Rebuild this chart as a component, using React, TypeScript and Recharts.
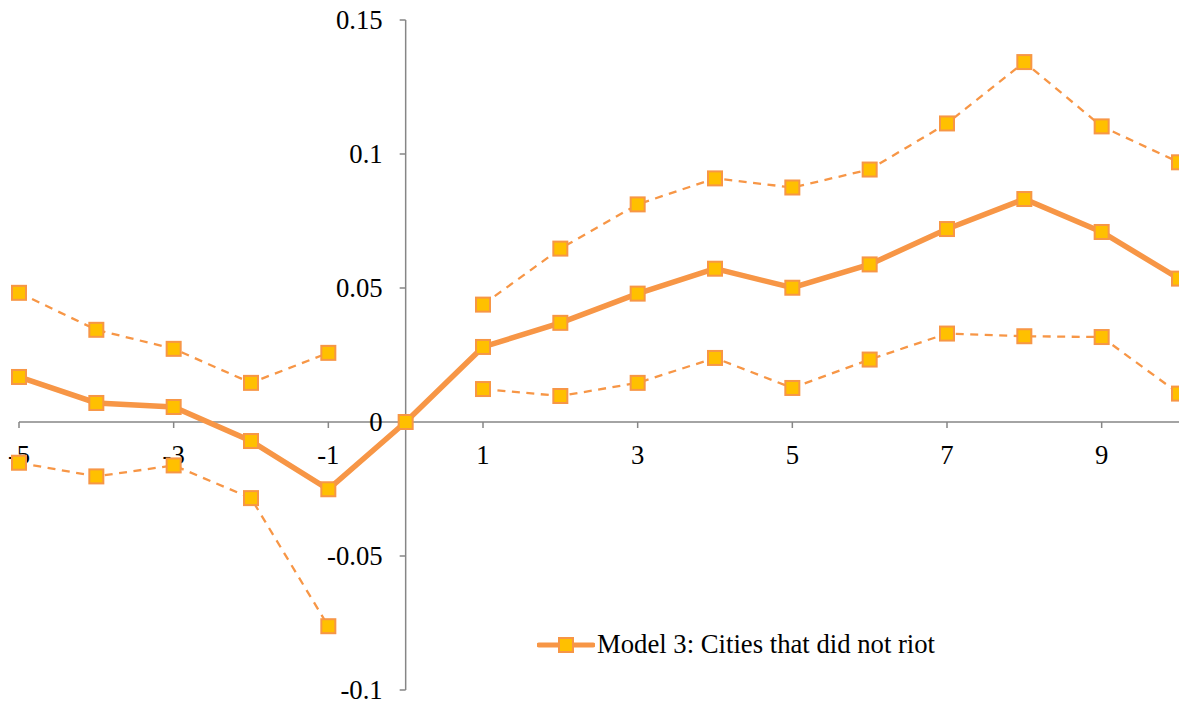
import React from "react";
import { LineChart, Line, XAxis, YAxis, ReferenceLine, ReferenceDot, Legend } from "recharts";

const years = [-5, -4, -3, -2, -1, 0, 1, 2, 3, 4, 5, 6, 7, 8, 9, 10];
const estimate = [0.0168, 0.0071, 0.0056, -0.0071, -0.0251, 0, 0.028, 0.037, 0.0479, 0.0572, 0.0501, 0.0588, 0.072, 0.0832, 0.0709, 0.0535];
const upperCI = [0.0482, 0.0344, 0.0273, 0.0146, 0.0258, null, 0.0438, 0.0647, 0.0812, 0.0909, 0.0875, 0.0942, 0.1114, 0.1343, 0.1103, 0.0969];
const lowerCI = [-0.0152, -0.0203, -0.0162, -0.0284, -0.0762, null, 0.0123, 0.0097, 0.0146, 0.0239, 0.0127, 0.0233, 0.033, 0.032, 0.0317, 0.0106];
const xTicks = [-5, -3, -1, 1, 3, 5, 7, 9];
const yTicks = [-0.1, -0.05, 0, 0.05, 0.1, 0.15];
const yTickLabels = ["-0.1", "-0.05", "0", "0.05", "0.1", "0.15"];
const seriesName = "Model 3: Cities that did not riot";

const data = years.map((x, i) => ({ x, est: estimate[i], up: upperCI[i], lo: lowerCI[i] }));

const ORANGE = "#F79646";
const GOLD = "#FFC000";
const AXIS = "#868686";
const FONT = "'Liberation Serif', 'Times New Roman', serif";
const FS = 26.7;

const squareDot = (props: any) => {
  const { cx, cy, index, dataKey, value } = props;
  if (cx == null || cy == null || value == null) return <g key={`${dataKey}-${index}`} />;
  return (
    <rect key={`${dataKey}-${index}`} x={cx - 7} y={cy - 7} width={14} height={14} fill={GOLD} stroke={ORANGE} strokeWidth={2} />
  );
};

const xTickShape = (label: string) => (props: any) => {
  const { cx, cy } = props;
  return (
    <g>
      <line x1={cx} y1={cy} x2={cx} y2={cy + 6} stroke={AXIS} strokeWidth={1.5} />
      <text x={cx} y={cy + 42} textAnchor="middle" fontFamily={FONT} fontSize={FS} fill="#000">{label}</text>
    </g>
  );
};

const yTickShape = (label: string) => (props: any) => {
  const { cx, cy } = props;
  return (
    <g>
      <line x1={cx - 6} y1={cy} x2={cx} y2={cy} stroke={AXIS} strokeWidth={1.5} />
      <text x={cx - 23} y={cy + 9} textAnchor="end" fontFamily={FONT} fontSize={FS} fill="#000">{label}</text>
    </g>
  );
};

const LegendContent = () => (
  <div style={{ display: "flex", alignItems: "center", fontFamily: FONT, fontSize: FS, color: "#000", whiteSpace: "nowrap" }}>
    <svg width={58} height={20} style={{ marginRight: 2 }}>
      <line x1={2} y1={10} x2={56} y2={10} stroke={ORANGE} strokeWidth={5} strokeLinecap="round" />
      <rect x={22} y={3} width={14} height={14} fill={GOLD} stroke={ORANGE} strokeWidth={2} />
    </svg>
    <span>{seriesName}</span>
  </div>
);

export default function App() {
  return (
    <div style={{ position: "absolute", left: 0, top: 0, width: 1179, height: 705, background: "#fff" }}>
      <LineChart width={1179} height={705} data={data} margin={{ top: 20, right: 0, bottom: 15, left: 19 }}>
        <XAxis type="number" dataKey="x" domain={[-5, 10]} hide />
        <YAxis type="number" domain={[-0.1, 0.15]} hide />
        <ReferenceLine y={0} stroke={AXIS} strokeWidth={1.5} />
        <ReferenceLine x={0} stroke={AXIS} strokeWidth={1.5} />
        <Line dataKey="up" stroke={ORANGE} strokeWidth={2.3} strokeDasharray="8 6.5" dot={squareDot} activeDot={false} connectNulls={false} isAnimationActive={false} legendType="none" />
        <Line dataKey="lo" stroke={ORANGE} strokeWidth={2.3} strokeDasharray="8 6.5" dot={squareDot} activeDot={false} connectNulls={false} isAnimationActive={false} legendType="none" />
        <Line dataKey="est" name={seriesName} stroke={ORANGE} strokeWidth={5.5} dot={squareDot} activeDot={false} isAnimationActive={false} />
        {xTicks.map((t) => (
          <ReferenceDot key={`xt${t}`} x={t} y={0} r={0} ifOverflow="visible" shape={xTickShape(String(t))} />
        ))}
        {yTicks.map((t, i) => (
          <ReferenceDot key={`yt${t}`} x={0} y={t} r={0} ifOverflow="visible" shape={yTickShape(yTickLabels[i])} />
        ))}
        <Legend layout="vertical" align="center" verticalAlign="middle" content={LegendContent} wrapperStyle={{ position: "absolute", left: 537, top: 629, width: "auto" }} />
      </LineChart>
    </div>
  );
}
